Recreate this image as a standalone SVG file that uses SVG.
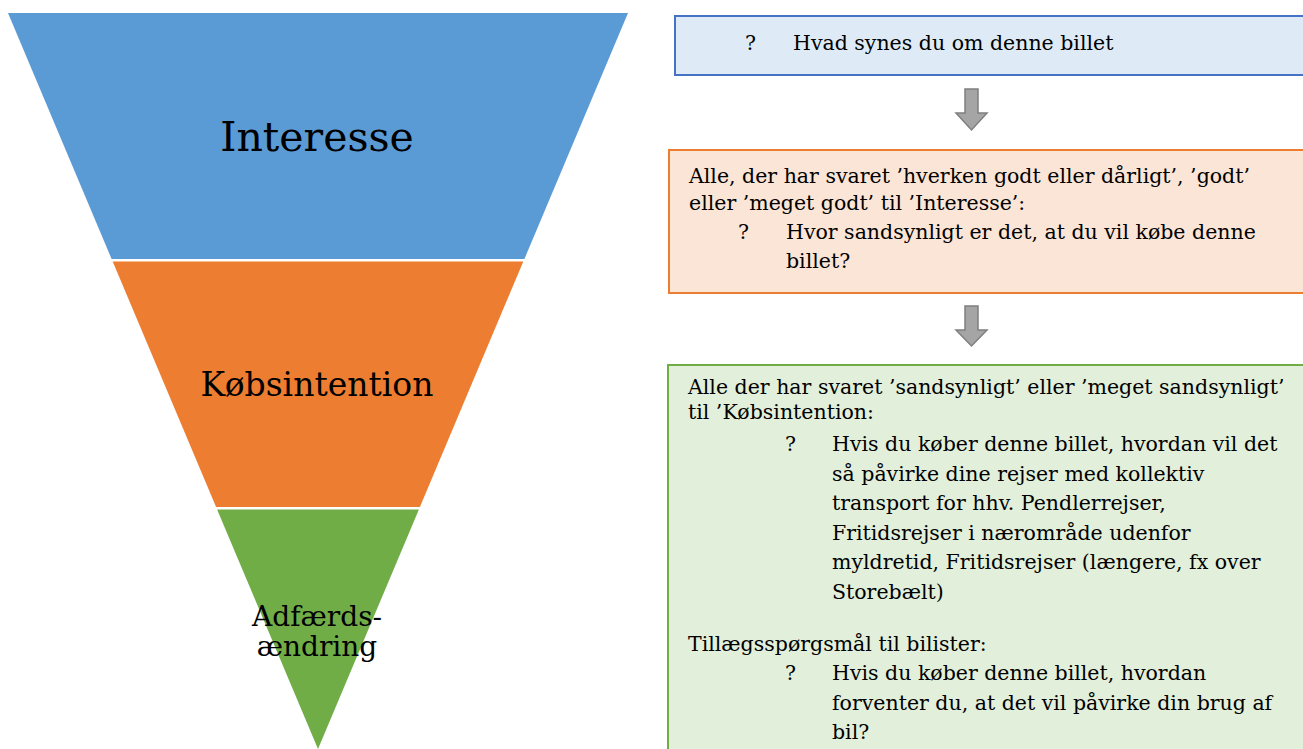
<svg xmlns="http://www.w3.org/2000/svg" width="1303" height="749" viewBox="0 0 1303 749">
<style>
.t{font-family:"DejaVu Serif","Liberation Serif",serif;fill:#000}
.s{font-size:20.5px}
.arrow{fill:#A5A5A5;stroke:#7F7F7F;stroke-width:1.5}
</style>
<rect width="1303" height="749" fill="#fff"/>
<g id="funnel-interesse">
<polygon points="8,13 628,13 524.4,259 111.6,259" fill="#5B9BD5"/>
<text class="t" x="317" y="151" font-size="41" text-anchor="middle">Interesse</text>
</g>
<g id="funnel-kobsintention">
<polygon points="112.7,261.5 523.3,261.5 419.9,507 216.1,507" fill="#ED7D31"/>
<text class="t" x="317" y="396" font-size="33" text-anchor="middle">Købsintention</text>
</g>
<g id="funnel-adfaerd">
<polygon points="217.1,509.5 418.9,509.5 318,749" fill="#70AD47"/>
<text class="t" x="317" y="626" font-size="28" text-anchor="middle">Adfærds-</text>
<text class="t" x="317" y="656" font-size="28" text-anchor="middle">ændring</text>
</g>
<g id="box-interesse">
<rect x="675" y="16" width="640" height="59" fill="#DEEBF7" stroke="#4472C4" stroke-width="2"/>
<text class="t s" x="745" y="50">?</text>
<text class="t s" x="793" y="50">Hvad synes du om denne billet</text>
</g>
<g id="box-kobsintention">
<rect x="669" y="150" width="646" height="143" fill="#FBE5D6" stroke="#ED7D31" stroke-width="2"/>
<text class="t s" x="689" y="183">Alle, der har svaret ’hverken godt eller dårligt’, ’godt’</text>
<text class="t s" x="689" y="210">eller ’meget godt’ til ’Interesse’:</text>
<text class="t s" x="738" y="239">?</text>
<text class="t s" x="786" y="239">Hvor sandsynligt er det, at du vil købe denne</text>
<text class="t s" x="786" y="268">billet?</text>
</g>
<g id="box-adfaerd">
<rect x="668" y="365" width="647" height="400" fill="#E2EFDA" stroke="#70AD47" stroke-width="2"/>
<text class="t s" x="688" y="394">Alle der har svaret ’sandsynligt’ eller ’meget sandsynligt’</text>
<text class="t s" x="688" y="419">til ’Købsintention:</text>
<text class="t s" x="785" y="451">?</text>
<text class="t s" x="832" y="451">Hvis du køber denne billet, hvordan vil det</text>
<text class="t s" x="832" y="480.5">så påvirke dine rejser med kollektiv</text>
<text class="t s" x="832" y="510">transport for hhv. Pendlerrejser,</text>
<text class="t s" x="832" y="539.5">Fritidsrejser i nærområde udenfor</text>
<text class="t s" x="832" y="569">myldretid, Fritidsrejser (længere, fx over</text>
<text class="t s" x="832" y="598.5">Storebælt)</text>
<text class="t s" x="688" y="651">Tillægsspørgsmål til bilister:</text>
<text class="t s" x="785" y="680">?</text>
<text class="t s" x="832" y="680">Hvis du køber denne billet, hvordan</text>
<text class="t s" x="832" y="709.5">forventer du, at det vil påvirke din brug af</text>
<text class="t s" x="832" y="739">bil?</text>
</g>
<g id="connectors">
<polygon class="arrow" points="965,89 978,89 978,113 987,113 971.5,130 956,113 965,113"/>
<polygon class="arrow" points="965,306 978,306 978,330 987,330 971.5,346 956,330 965,330"/>
</g>
</svg>
